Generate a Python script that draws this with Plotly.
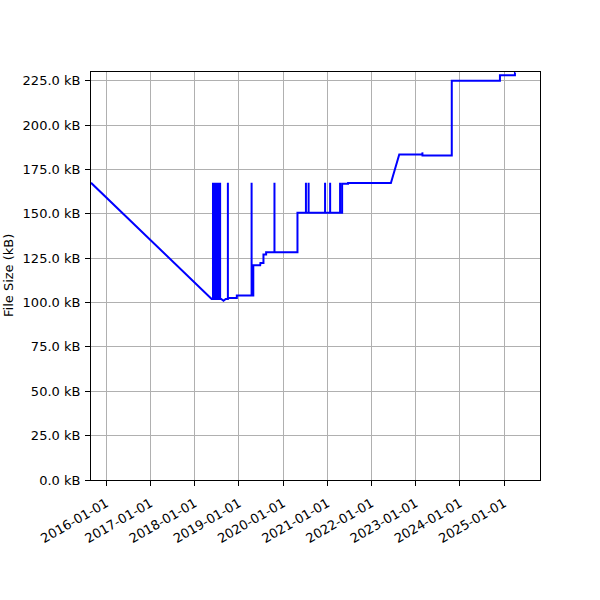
import plotly.graph_objects as go

# --- data ---
dates = [
    "2015-08-28", "2018-05-21",
    "2018-06-01", "2018-06-01", "2018-06-01",
    "2018-06-06", "2018-06-06", "2018-06-06",
    "2018-06-11", "2018-06-11", "2018-06-11",
    "2018-06-16", "2018-06-16", "2018-06-16",
    "2018-06-21", "2018-06-21", "2018-06-21",
    "2018-06-26", "2018-06-26", "2018-06-26",
    "2018-07-01", "2018-07-01", "2018-07-01",
    "2018-07-06", "2018-07-06", "2018-07-06",
    "2018-07-11", "2018-07-11", "2018-07-11",
    "2018-07-16", "2018-07-16", "2018-07-16",
    "2018-07-21", "2018-07-21", "2018-07-21",
    "2018-07-26", "2018-07-26", "2018-07-26",
    "2018-07-30", "2018-07-30", "2018-07-30",
    "2018-08-08", "2018-08-27", "2018-09-14",
    "2018-10-02", "2018-10-02", "2018-10-02",
    "2018-12-15", "2018-12-15",
    "2019-04-16", "2019-04-16", "2019-04-16",
    "2019-04-30", "2019-04-30",
    "2019-06-26", "2019-06-28",
    "2019-07-23", "2019-07-23",
    "2019-08-14", "2019-08-14",
    "2019-10-22", "2019-10-22", "2019-10-22",
    "2020-04-29", "2020-04-29",
    "2020-07-08", "2020-07-08", "2020-07-08",
    "2020-07-30", "2020-07-30", "2020-07-30",
    "2020-12-13", "2020-12-13", "2020-12-13",
    "2021-01-24", "2021-01-24", "2021-01-24",
    "2021-04-16", "2021-04-16", "2021-04-16",
    "2021-05-03", "2021-05-03",
    "2021-06-21", "2021-06-21",
    "2022-06-10", "2022-08-18",
    "2023-02-25", "2023-02-25", "2023-02-26",
    "2023-10-26", "2023-10-26",
    "2024-11-27", "2024-11-27",
    "2025-03-31", "2025-03-31", "2025-04-04",
]
sizes_kb = [
    167.5, 102.0,
    102.0, 167.5, 102.0,
    102.0, 167.5, 102.0,
    102.0, 167.5, 102.0,
    102.0, 167.5, 102.0,
    102.0, 167.5, 102.0,
    102.0, 167.5, 102.0,
    102.0, 167.5, 102.0,
    102.0, 167.5, 102.0,
    102.0, 167.5, 102.0,
    102.0, 167.5, 102.0,
    102.0, 167.5, 102.0,
    102.0, 167.5, 102.0,
    102.0, 167.5, 102.0,
    102.0, 101.0, 102.0,
    102.0, 167.5, 102.5,
    102.5, 104.0,
    104.0, 167.5, 104.0,
    104.0, 121.0,
    121.0, 122.3,
    122.3, 127.0,
    127.0, 128.3,
    128.3, 167.5, 128.3,
    128.3, 150.6,
    150.6, 167.5, 150.6,
    150.6, 167.5, 150.6,
    150.6, 167.5, 150.6,
    150.6, 167.5, 150.6,
    150.6, 167.5, 150.6,
    150.6, 167.0,
    167.0, 167.4,
    167.4, 183.4,
    183.4, 184.6, 182.8,
    182.8, 225.0,
    225.0, 228.0,
    228.0, 229.3, 229.3,
]
year_ticks = ["2016-01-01", "2017-01-01", "2018-01-01", "2019-01-01", "2020-01-01",
              "2021-01-01", "2022-01-01", "2023-01-01", "2024-01-01", "2025-01-01"]
y_ticks = [0, 25, 50, 75, 100, 125, 150, 175, 200, 225]
y_tick_labels = [f"{v:.1f} kB" for v in y_ticks]
x_range = ["2015-08-28", "2025-10-24"]
y_range = [0, 229.9]

FONT = "DejaVu Sans"

fig = go.Figure()
fig.add_trace(go.Scatter(
    x=dates, y=sizes_kb, mode="lines",
    line=dict(color="#0000ff", width=2),
    showlegend=False, hoverinfo="skip",
))

axis_common = dict(
    showline=True, linecolor="black", linewidth=1, mirror=True,
    showgrid=True, gridcolor="#b0b0b0", gridwidth=1,
    ticks="outside", ticklen=5, tickwidth=1, tickcolor="black",
    tickfont=dict(family=FONT, size=13, color="black"),
    zeroline=False,
)

L, T = 91, 72
PW, PH = 449, 408

fig.update_layout(
    width=600, height=600,
    margin=dict(l=L, r=600 - L - PW, t=T, b=600 - T - PH),
    paper_bgcolor="white", plot_bgcolor="white",
    font=dict(family=FONT, size=13, color="black"),
    xaxis=dict(
        type="date", range=x_range,
        tickmode="array", tickvals=year_ticks, ticktext=year_ticks,
        tickangle=-30, ticklabelstandoff=5,
        **axis_common,
    ),
    yaxis=dict(
        range=y_range,
        tickmode="array", tickvals=y_ticks, ticktext=y_tick_labels,
        ticklabelstandoff=2,
        **axis_common,
    ),
    annotations=[dict(
        text="File Size (kB)", textangle=-90,
        xref="paper", yref="paper",
        x=(8 - L) / PW, y=0.5, xanchor="center", yanchor="middle",
        showarrow=False, font=dict(family=FONT, size=13, color="black"),
    )],
)

fig.write_html(
    "out.html",
    config={"displayModeBar": False},
    post_script="document.body.style.margin='0';",
)
